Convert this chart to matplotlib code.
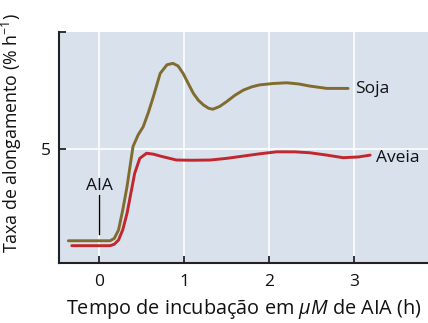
import matplotlib
matplotlib.use("Agg")
import matplotlib.pyplot as plt

# Data
soja_x = [-0.36, 0.13, 0.18, 0.23, 0.28, 0.33, 0.40, 0.46, 0.52, 0.58, 0.64, 0.72, 0.80, 0.87, 0.93, 0.99,
          1.05, 1.11, 1.17, 1.23, 1.29, 1.34, 1.42, 1.50, 1.60, 1.70, 1.80, 1.89, 2.05, 2.21, 2.35, 2.48, 2.68, 2.93]
soja_y = [1.08, 1.08, 1.18, 1.54, 2.40, 3.39, 5.10, 5.60, 5.95, 6.55, 7.24, 8.23, 8.60, 8.66, 8.55, 8.23,
          7.80, 7.38, 7.08, 6.88, 6.74, 6.70, 6.82, 7.02, 7.30, 7.52, 7.66, 7.74, 7.80, 7.83, 7.78, 7.69, 7.59, 7.59]
aveia_x = [-0.32, 0.13, 0.18, 0.23, 0.28, 0.33, 0.38, 0.42, 0.48, 0.56, 0.64, 0.72, 0.91, 1.10, 1.31, 1.50,
           1.70, 1.90, 2.09, 2.30, 2.48, 2.68, 2.87, 3.05, 3.19]
aveia_y = [0.87, 0.87, 0.93, 1.11, 1.55, 2.25, 3.20, 3.96, 4.60, 4.82, 4.78, 4.70, 4.53, 4.52, 4.53, 4.60,
           4.70, 4.80, 4.88, 4.88, 4.84, 4.74, 4.63, 4.66, 4.74]
x_ticks = [0, 1, 2, 3]
y_ticks = [5, 10]
y_tick_labels = ["5", ""]

plt.rcParams['font.family'] = ['Open Sans', 'DejaVu Sans']
plt.rcParams['mathtext.fontset'] = 'custom'
plt.rcParams['mathtext.rm'] = 'Open Sans'
plt.rcParams['mathtext.it'] = 'Open Sans:italic'

bg = '#d8e1ec'
fig = plt.figure(figsize=(4.28, 3.23), dpi=100)
ax = fig.add_axes([59/428, 60/323, 1 - 59/428, (263-32)/323])
ax.set_facecolor(bg)

ax.set_xlim(-0.47, 3.87)
ax.set_ylim(0.13, 10)

for xt in x_ticks:
    ax.axvline(xt, color='white', lw=1.2, zorder=1)
ax.axhline(5, color='white', lw=1.2, zorder=1)

soja_color = '#7f6c2e'
aveia_color = '#c1272d'
ax.plot(soja_x, soja_y, color=soja_color, lw=2.1, solid_joinstyle='round', solid_capstyle='round', zorder=3)
ax.plot(aveia_x, aveia_y, color=aveia_color, lw=2.1, solid_joinstyle='round', solid_capstyle='round', zorder=3)

ax.text(3.01, 7.55, 'Soja', fontsize=12.5, va='center', ha='left', color='#111111')
ax.text(3.26, 4.62, 'Aveia', fontsize=12.5, va='center', ha='left', color='#111111')

# AIA marker
ax.text(0.0, 3.25, 'AIA', fontsize=12.5, ha='center', va='baseline', color='#111111', zorder=4,
        bbox=dict(facecolor=bg, edgecolor='none', pad=0.3))
ax.plot([0.0, 0.0], [1.37, 3.05], color='black', lw=1.0, zorder=4)

ax.set_xticks(x_ticks)
ax.set_yticks(y_ticks)
ax.set_yticklabels(y_tick_labels)
ax.tick_params(direction='in', length=5, width=1.2, labelsize=12.5, colors='#111111', pad=6)
ax.tick_params(axis='x', pad=8)

for s in ['top', 'right']:
    ax.spines[s].set_visible(False)
for s in ['left', 'bottom']:
    ax.spines[s].set_linewidth(1.5)
    ax.spines[s].set_color('#222222')

ax.set_xlabel(r'Tempo de incubação em $\mu M$ de AIA (h)', fontsize=14.3, color='#111111', labelpad=5)
ax.set_ylabel(r'Taxa de alongamento (% h$^{-1}$)', fontsize=12.8, color='#111111')
ax.yaxis.set_label_coords(-0.095, 0.565)

fig.savefig('out.png', dpi=100)
